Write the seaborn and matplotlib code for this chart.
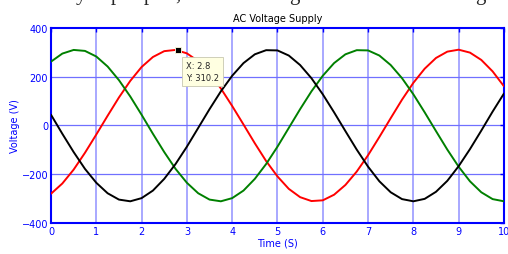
import numpy as np
import pandas as pd
import matplotlib
matplotlib.use("Agg")
import matplotlib.pyplot as plt
import seaborn as sns

# sample times (s) and the three phase voltages
time_s = np.linspace(0, 10, 41)
red_v = [-280, -238, -181, -112, -37, 40, 115, 183, 240, 281, 305, 310, 296, 264,
         215, 152, 80, 4, -73, -146, -209, -260, -294, -310, -307, -284, -244,
         -189, -122, -47, 30, 106, 175, 233, 277, 303, 311, 299, 269, 222, 161]
green_v = [262, 295, 310, 306, 283, 242, 186, 119, 44, -34, -109, -178, -235, -278,
           -304, -311, -298, -267, -219, -158, -87, -10, 67, 140, 204, 256, 292,
           309, 308, 287, 248, 194, 128, 54, -23, -99, -169, -229, -274, -302, -311]
black_v = [44, -34, -109, -178, -235, -278, -304, -311, -298, -267, -219, -158, -87,
           -10, 67, 140, 204, 256, 292, 309, 308, 287, 248, 194, 128, 54, -23, -99,
           -169, -229, -274, -302, -311, -301, -272, -227, -167, -97, -21, 57, 131]
phases = ["A", "B", "C"]
phase_colors = {"A": "#ff0000", "B": "#008000", "C": "#000000"}

tip_x, tip_y = 2.8, 310.2

df = pd.concat([
    pd.DataFrame({"t": time_s, "v": red_v, "phase": "A"}),
    pd.DataFrame({"t": time_s, "v": green_v, "phase": "B"}),
    pd.DataFrame({"t": time_s, "v": black_v, "phase": "C"}),
])

sns.set_style("white")
plt.rcParams["font.family"] = ["DejaVu Sans"]

fig = plt.figure(figsize=(5.08, 2.55), dpi=100)
ax = fig.add_axes([0.1004, 0.1216, 0.8916, 0.7647])

blue = "#0000ff"
ax.grid(False)
for xv in range(1, 10):
    ax.axvline(xv, color="#a8a8ff", lw=1.4, zorder=0)
for yv in (-200, 0, 200):
    ax.axhline(yv, color="#7070ff", lw=0.9, zorder=0)

sns.lineplot(data=df, x="t", y="v", hue="phase", hue_order=phases,
             palette=phase_colors, lw=1.4, legend=False, ax=ax, zorder=3)

ax.set_xlim(0, 10)
ax.set_ylim(-400, 400)
ax.set_xticks(range(0, 11))
ax.set_yticks([-400, -200, 0, 200, 400])
ax.tick_params(direction="in", length=3, width=1, colors=blue, labelsize=7,
               top=True, right=True, pad=2)
for s in ax.spines.values():
    s.set_color(blue)
    s.set_linewidth(1.5)

ax.set_xlabel("Time (S)", color=blue, fontsize=7, labelpad=1)
ax.set_ylabel("Voltage (V)", color=blue, fontsize=7, labelpad=1)
ax.set_title("AC Voltage Supply", fontsize=7, color="black", pad=5)

# data tip
ax.plot([tip_x], [tip_y], marker="s", ms=5, color="black", mec="#ffffe1",
        mew=0.6, zorder=5, clip_on=False)
ax.annotate(f"X: {tip_x}\nY: {tip_y}", xy=(tip_x, tip_y), xytext=(6, -8),
            textcoords="offset points", ha="left", va="top", fontsize=6,
            linespacing=1.5, zorder=6,
            bbox=dict(boxstyle="square,pad=0.45", fc="#ffffe1", ec="#c8c8b0", lw=0.6))

# bits of the page text cut off above the figure
for gx, g in [(0.150, "y"), (0.218, "p"), (0.282, "p"), (0.345, ","), (0.57, "g"), (0.935, "g")]:
    fig.text(gx, 1.0, g, family="Liberation Serif", fontsize=15, va="baseline",
             ha="left", transform=fig.transFigure)

fig.savefig("out.png", dpi=100)
